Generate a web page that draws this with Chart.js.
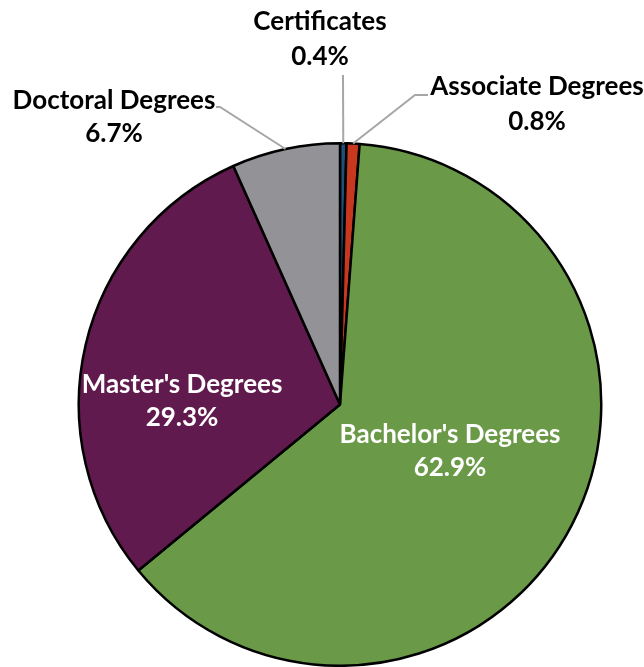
<!DOCTYPE html>
<html>
<head>
<meta charset="utf-8">
<script src="https://cdn.jsdelivr.net/npm/chart.js@4.4.0/dist/chart.umd.min.js"></script>
<style>
  html, body { margin: 0; padding: 0; background: #fff; }
  #wrap { width: 644px; height: 667px; position: relative; }
</style>
</head>
<body>
<div id="wrap"><canvas id="degreeChart" width="644" height="667"></canvas></div>
<script>
// degrees awarded, share of total (%)
const categories = ["Certificates", "Associate Degrees", "Bachelor's Degrees", "Master's Degrees", "Doctoral Degrees"];
const shares = [0.4, 0.8, 62.9, 29.3, 6.7];
const sliceColors = ["#1f4e79", "#c8381e", "#6a9a48", "#611a4d", "#939397"];

const FONT = "bold 26px Lato, 'Open Sans', sans-serif";

// label centres (first line); outside labels get a leader line
const labelSpots = [
    { x: 320, y: 22, gap: 35, outside: true, line: [[343, 75]] },
    { x: 537, y: 87, gap: 35, outside: true, line: [[415, 95], [428, 95]] },
    { x: 450, y: 435, gap: 33, outside: false },
    { x: 182, y: 385, gap: 33, outside: false },
    { x: 114, y: 101, gap: 33, outside: true, line: [[220, 107], [216, 107]] }
];

const pieLabels = {
    id: "pieLabels",
    afterDatasetsDraw(chart) {
        const ctx = chart.ctx;
        const arcs = chart.getDatasetMeta(0).data;
        ctx.save();
        ctx.font = FONT;
        ctx.textAlign = "center";
        ctx.textBaseline = "middle";
        arcs.forEach((arc, i) => {
            const spot = labelSpots[i];
            const p = arc.getProps(["x", "y", "startAngle", "endAngle", "outerRadius"], true);
            const mid = (p.startAngle + p.endAngle) / 2;
            if (spot.outside) {
                const sx = p.x + Math.cos(mid) * p.outerRadius;
                const sy = p.y + Math.sin(mid) * p.outerRadius;
                ctx.strokeStyle = "#a6a6a6";
                ctx.lineWidth = 2;
                ctx.beginPath();
                ctx.moveTo(sx, sy);
                spot.line.forEach(pt => ctx.lineTo(pt[0], pt[1]));
                ctx.stroke();
                ctx.fillStyle = "#000";
            } else {
                ctx.fillStyle = "#fff";
            }
            ctx.fillText(categories[i], spot.x, spot.y);
            ctx.fillText(shares[i].toFixed(1) + "%", spot.x, spot.y + spot.gap);
        });
        ctx.restore();
    }
};

new Chart("degreeChart", {
    type: "pie",
    data: {
        labels: categories,
        datasets: [{
            data: shares,
            backgroundColor: sliceColors,
            borderColor: "#000",
            borderWidth: 2.5
        }]
    },
    options: {
        responsive: false,
        animation: false,
        layout: { padding: { top: 142, bottom: 0, left: 77, right: 41 } },
        plugins: {
            legend: { display: false },
            tooltip: { enabled: false }
        }
    },
    plugins: [pieLabels]
});
</script>
</body>
</html>
